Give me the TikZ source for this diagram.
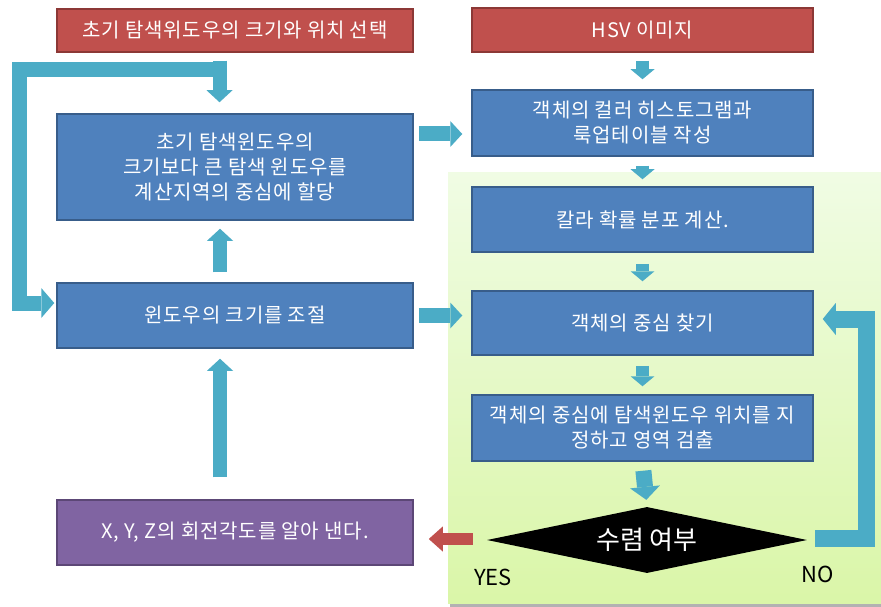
\documentclass[tikz,border=0pt]{standalone}
\usepackage{fontspec}
\setmainfont{Noto Sans CJK KR}
\newfontfamily\boxfont[LetterSpace=4]{Noto Sans CJK KR}
\usetikzlibrary{arrows.meta,shapes.geometric}
\definecolor{bluef}{HTML}{4F81BD}
\definecolor{blued}{HTML}{385D8A}
\definecolor{redf}{HTML}{C0504D}
\definecolor{redd}{HTML}{8C3836}
\definecolor{purf}{HTML}{8064A2}
\definecolor{purd}{HTML}{5C4776}
\definecolor{arrc}{HTML}{4BACC6}
\definecolor{gtop}{HTML}{F0FCE4}
\definecolor{gbot}{HTML}{DAF6A8}
\begin{document}
\begin{tikzpicture}[x=1pt,y=-1pt,
  box/.style={rectangle, draw=blued, fill=bluef, line width=1.5pt, text=white,
    font=\boxfont\fontsize{20}{25}\selectfont, align=center, inner sep=0pt},
  redbox/.style={box, draw=redd, fill=redf},
  purbox/.style={box, draw=purd, fill=purf},
  smallarr/.style={draw=arrc, line width=13pt, -{Triangle[width=24pt,length=10pt,line width=0pt]}},
  midarr/.style={draw=arrc, line width=14pt, -{Triangle[width=26pt,length=12pt,line width=0pt]}},
  bigarr/.style={draw=arrc, line width=16pt, -{Triangle[width=30pt,length=13pt,line width=0pt]}},
  yesarr/.style={draw=redf, line width=12pt, -{Triangle[width=25pt,length=14pt,line width=0pt]}},
  lbl/.style={text=black, font=\fontsize{22}{26}\selectfont, inner sep=0pt}
]
\useasboundingbox (0,0) rectangle (881,607);
\fill[white] (0,0) rectangle (881,607);
% green panel
\fill[black!30] (450,176) rectangle (881,607);
\shade[top color=gtop, bottom color=gbot] (448,173) rectangle (881,603);

% nodes
\node[redbox, minimum width=356pt, minimum height=43pt] (red1) at (235,30.5) {초기 탐색위도우의 크기와 위치 선택};
\node[redbox, minimum width=341pt, minimum height=44pt] (hsv) at (642.5,30) {HSV 이미지};
\node[box, minimum width=356pt, minimum height=106pt] (blue1) at (235,167) {초기 탐색윈도우의\\크기보다 큰 탐색 윈도우를\\계산지역의 중심에 할당};
\node[box, minimum width=341pt, minimum height=66pt] (col) at (642.5,123) {객체의 컬러 히스토그램과\\룩업테이블 작성};
\node[box, minimum width=341pt, minimum height=65pt] (prob) at (642.5,219.5) {칼라 확률 분포 계산.};
\node[box, minimum width=341pt, minimum height=64pt] (cen) at (642.5,323) {객체의 중심 찾기};
\node[box, minimum width=341pt, minimum height=66pt] (det) at (642.5,428) {객체의 중심에 탐색윈도우 위치를 지\\정하고 영역 검출};
\node[box, minimum width=356pt, minimum height=65pt] (win) at (235,315.5) {윈도우의 크기를 조절};
\node[purbox, minimum width=356pt, minimum height=65pt] (purp) at (235,532.5) {X, Y, Z의 회전각도를 알아 낸다.};
\node[diamond, fill=black, aspect=4.85, minimum width=320pt, minimum height=66pt, inner sep=0pt,
  text=white, font=\fontsize{26}{30}\selectfont] (dia) at (647,540) {수렴 여부};
\node[lbl] (yes) at (493,577) {YES};
\node[lbl] (no) at (818,574) {NO};

% connectors
\draw[midarr, shorten <=8pt, shorten >=11pt] ([xshift=-15.5pt]red1.south) -- ([xshift=-15.5pt]blue1.north);
\draw[smallarr, shorten <=8pt, shorten >=10pt] (hsv.south) -- (col.north);
\draw[smallarr, shorten <=9pt, shorten >=7pt] (col.south) -- (prob.north);
\draw[smallarr, shorten <=11pt, shorten >=9pt] (prob.south) -- (cen.north);
\draw[smallarr, shorten <=10pt, shorten >=8pt] (cen.south) -- (det.north);
\draw[bigarr, shorten <=9pt, shorten >=7pt] (det.south) -- (dia.north);
\draw[midarr, line width=15pt, shorten <=5pt, shorten >=9pt] (blue1.east |- 0,134) -- (col.west |- 0,134);
\draw[midarr, line width=15pt, shorten <=5pt, shorten >=9pt] (win.east) -- (cen.west |- win.east);
\draw[midarr, shorten <=22pt, shorten >=10pt] ([xshift=-15pt]purp.north) -- ([xshift=-15pt]win.south);
\draw[midarr, shorten <=10pt, shorten >=8pt] ([xshift=-15pt]win.north) -- ([xshift=-15pt]blue1.south);
\draw[yesarr, shorten <=14pt, shorten >=15pt] (dia.west |- 0,539) -- (purp.east |- 0,539);
% NO loop
\coordinate (nostart) at (815,538);
\draw[bigarr, line width=17pt, -{Triangle[width=32pt,length=13pt,line width=0pt]}]
  (nostart) -- (866,538) -- (866,319) -- ([shift={(9,-4)}]cen.east);
% left loop
\coordinate (loopstart) at (226.5,70);
\draw[midarr, line width=15pt, -{Triangle[width=30pt,length=13pt,line width=0pt]}]
  (loopstart) -- (19,70) -- (19,303) -- ([shift={(-2,-12.5)}]win.west);
\end{tikzpicture}
\end{document}
